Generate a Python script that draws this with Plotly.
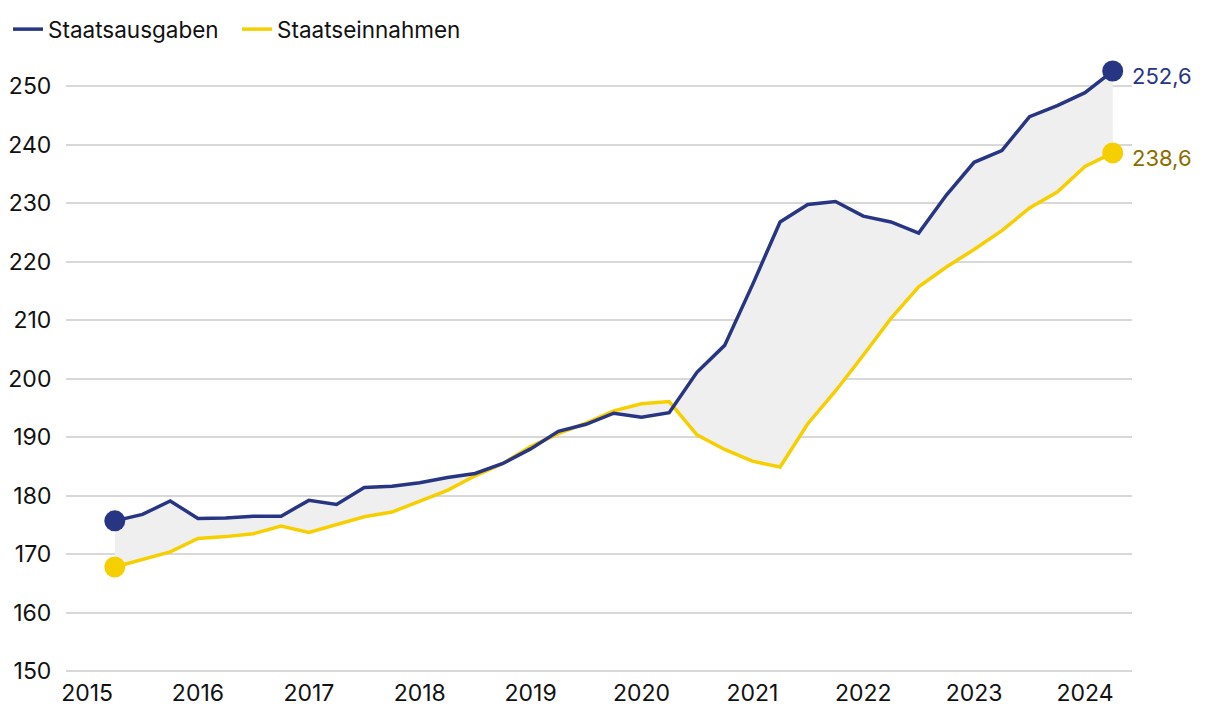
import plotly.graph_objects as go

# Quarterly positions (decimal years), 2015 Q2 .. 2024 Q2
years = [2015 + 0.25 * i for i in range(1, 38)]

ausgaben = [175.7, 176.8, 179.1, 176.1, 176.2, 176.5, 176.5, 179.2, 178.5, 181.4,
            181.6, 182.2, 183.1, 183.8, 185.5, 188.0, 191.0, 192.2, 194.1, 193.4,
            194.2, 201.1, 205.7, 216.0, 226.8, 229.8, 230.3, 227.8, 226.8, 224.9,
            231.4, 237.0, 239.0, 244.8, 246.7, 248.9, 252.6]

einnahmen = [167.8, 169.1, 170.4, 172.7, 173.0, 173.5, 174.8, 173.7, 175.1, 176.4,
             177.2, 179.0, 180.9, 183.4, 185.5, 188.4, 190.6, 192.4, 194.5, 195.7,
             196.1, 190.4, 187.9, 185.9, 184.9, 192.3, 197.9, 204.0, 210.3, 215.7,
             219.1, 222.1, 225.3, 229.2, 231.9, 236.3, 238.6]

tick_years = [2015, 2016, 2017, 2018, 2019, 2020, 2021, 2022, 2023, 2024]
y_ticks = [150, 160, 170, 180, 190, 200, 210, 220, 230, 240, 250]

BLUE = "#283583"
YELLOW = "#f6cf00"
GOLD = "#8a6e00"
FONT = "Inter"

fig = go.Figure()

# fill between the two series
fig.add_trace(go.Scatter(x=years, y=einnahmen, mode="lines", line=dict(width=0),
                         showlegend=False, hoverinfo="skip"))
fig.add_trace(go.Scatter(x=years, y=ausgaben, mode="lines", line=dict(width=0),
                         fill="tonexty", fillcolor="#efefef",
                         showlegend=False, hoverinfo="skip"))

fig.add_trace(go.Scatter(x=years, y=einnahmen, mode="lines", name="Staatseinnahmen",
                         line=dict(color=YELLOW, width=3.5), legendrank=2))
fig.add_trace(go.Scatter(x=years, y=ausgaben, mode="lines", name="Staatsausgaben",
                         line=dict(color=BLUE, width=3.5), legendrank=1))

# end point markers
fig.add_trace(go.Scatter(x=[years[0], years[-1]], y=[einnahmen[0], einnahmen[-1]],
                         mode="markers", marker=dict(color=YELLOW, size=21),
                         showlegend=False, cliponaxis=False, hoverinfo="skip"))
fig.add_trace(go.Scatter(x=[years[0], years[-1]], y=[ausgaben[0], ausgaben[-1]],
                         mode="markers", marker=dict(color=BLUE, size=21),
                         showlegend=False, cliponaxis=False, hoverinfo="skip"))

def fmt(v):
    return f"{v:.1f}".replace(".", ",")

fig.add_annotation(x=years[-1], y=ausgaben[-1], text=fmt(ausgaben[-1]),
                   showarrow=False, xanchor="left", yanchor="middle",
                   xshift=17, yshift=-5, font=dict(family=FONT, size=22, color=BLUE))
fig.add_annotation(x=years[-1], y=einnahmen[-1], text=fmt(einnahmen[-1]),
                   showarrow=False, xanchor="left", yanchor="middle",
                   xshift=17, yshift=-5, font=dict(family=FONT, size=22, color=GOLD))

fig.update_layout(
    width=1212, height=716,
    margin=dict(l=58, r=88, t=49, b=47, autoexpand=False),
    paper_bgcolor="white", plot_bgcolor="white",
    font=dict(family=FONT, size=23, color="#111111"),
    showlegend=True,
    legend=dict(orientation="h", x=0, y=1.0, xref="container", yref="container",
                xanchor="left", yanchor="top", font=dict(size=22.5),
                itemwidth=30, entrywidth=184, tracegroupgap=0, traceorder="normal"),
    xaxis=dict(range=[2014.81, 2024.424], tickvals=tick_years, automargin=False,
               ticktext=[str(t) for t in tick_years], showgrid=False, zeroline=False,
               showline=False, ticks=""),
    yaxis=dict(range=[149, 255], tickvals=y_ticks, showgrid=True, gridcolor="#d8d8d8",
               gridwidth=2, zeroline=False, showline=False, ticks="outside", automargin=False,
               ticklen=9, tickcolor="rgba(0,0,0,0)"),
)

fig.write_html("out.html")
